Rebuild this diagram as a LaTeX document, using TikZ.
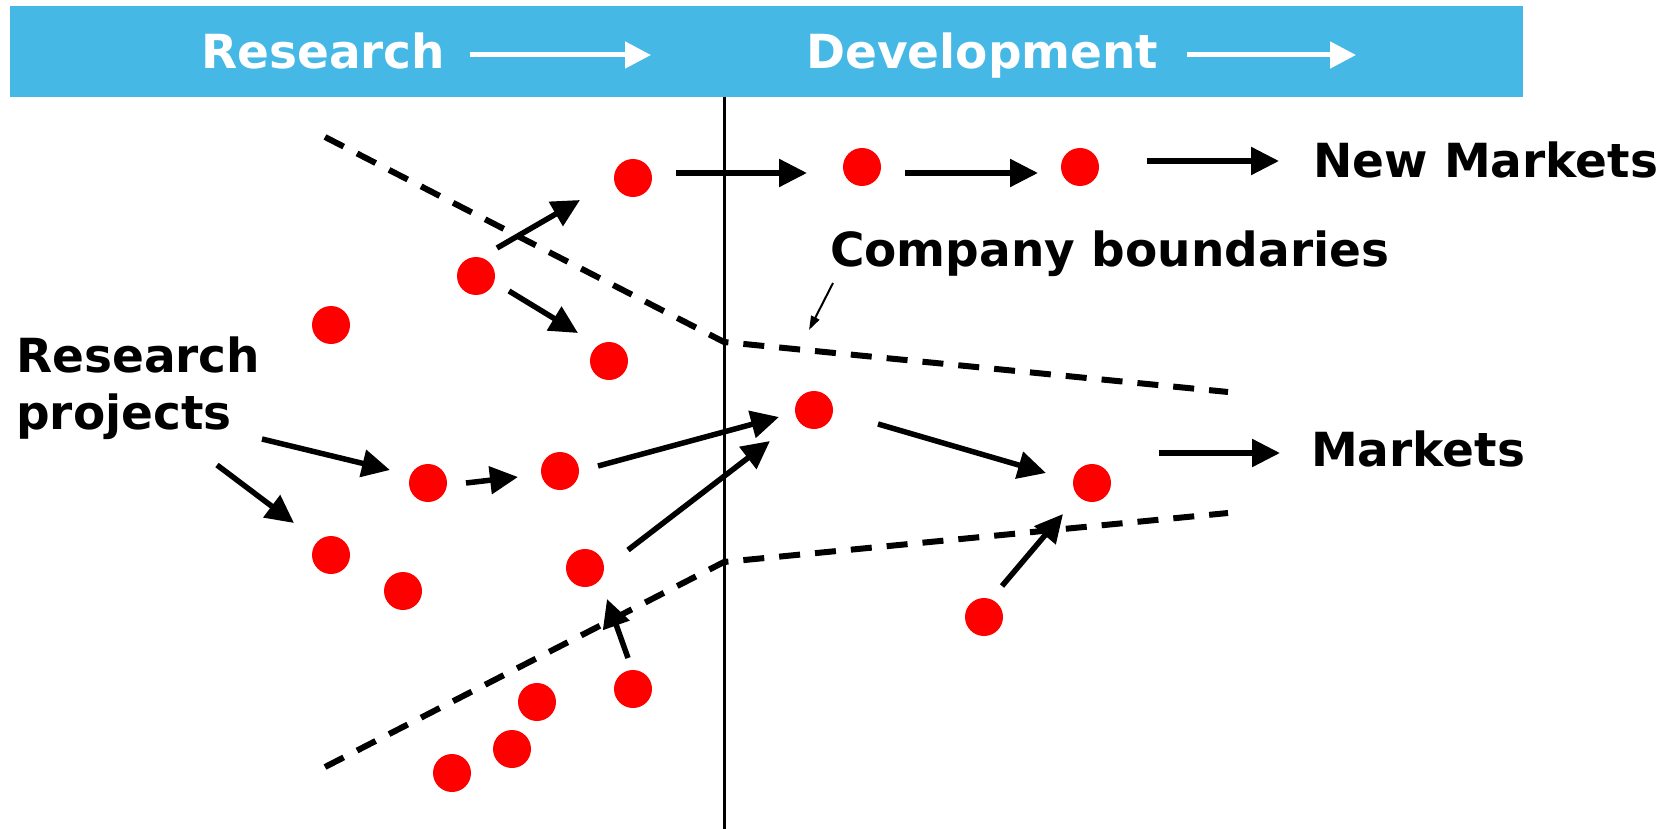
\documentclass[tikz,border=0pt]{standalone}
\usepackage{fontspec}
\setmainfont{DejaVu Sans}
\usetikzlibrary{arrows.meta}
\definecolor{bandblue}{RGB}{70,184,230}
\begin{document}
\begin{tikzpicture}[x=1pt,y=-1pt,
  dot/.style={circle,fill=red,minimum size=38pt,inner sep=0pt},
  lbl/.style={anchor=base west,inner sep=0pt,font=\fontsize{47}{57}\selectfont\bfseries},
  hlbl/.style={lbl,text=white},
  flow/.style={line width=5.5pt,-{Triangle[length=28pt,width=27pt]}},
  hflow/.style={white,line width=5pt,-{Triangle[length=26pt,width=26pt]}},
  border/.style={line width=6pt,dash pattern=on 21pt off 15pt},
  pointer/.style={line width=2pt,-{Triangle[length=14pt,width=9pt]}}
]
\useasboundingbox (0,0) rectangle (1675,829);

% header band
\fill[bandblue] (10,6) rectangle (1523,97);
\node[hlbl] (hres) at (201,69) {Research};
\node[hlbl] (hdev) at (806,69) {Development};
\coordinate (hr1) at (470,55); \coordinate (hr2) at (651,55);
\coordinate (hd1) at (1187,55); \coordinate (hd2) at (1356,55);
\draw[hflow] (hr1) -- (hr2);
\draw[hflow] (hd1) -- (hd2);

% research / development divide
\coordinate (vtop) at (724,97); \coordinate (vbot) at (724,829);
\draw[line width=3pt] (vtop) -- (vbot);

% company boundaries
\coordinate (ub1) at (325,137); \coordinate (ub2) at (724,342); \coordinate (ub3) at (1228,392);
\coordinate (lb1) at (325,767); \coordinate (lb2) at (724,562); \coordinate (lb3) at (1228,513);
\draw[border] (ub1) -- (ub2) -- (ub3);
\draw[border] (lb1) -- (lb2) -- (lb3);

% projects
\node[dot] (d1) at (633,178) {};
\node[dot] (d2) at (862,167) {};
\node[dot] (d3) at (1080,167) {};
\node[dot] (d4) at (476,276) {};
\node[dot] (d5) at (331,325) {};
\node[dot] (d6) at (609,361) {};
\node[dot] (d7) at (814,410) {};
\node[dot] (d8) at (428,483) {};
\node[dot] (d9) at (560,471) {};
\node[dot] (d10) at (1092,483) {};
\node[dot] (d11) at (331,555) {};
\node[dot] (d12) at (403,591) {};
\node[dot] (d13) at (585,568) {};
\node[dot] (d14) at (984,617) {};
\node[dot] (d15) at (633,689) {};
\node[dot] (d16) at (537,702) {};
\node[dot] (d17) at (512,749) {};
\node[dot] (d18) at (452,773) {};

% labels
\node[lbl] (newm) at (1313,178) {New Markets};
\node[lbl] (comp) at (830,266) {Company boundaries};
\node[lbl] (mkts) at (1311,466) {Markets};
\node[lbl,align=left] (rproj) at (16,429) {Research\\projects};

% arrow ends
\coordinate (a1s) at (497,248); \coordinate (a1e) at (580,200);
\coordinate (a2s) at (509,291); \coordinate (a2e) at (578,333);
\coordinate (a3s) at (676,173); \coordinate (a3e) at (807,173);
\coordinate (a4s) at (905,173); \coordinate (a4e) at (1038,173);
\coordinate (a5s) at (1147,161); \coordinate (a5e) at (1279,161);
\coordinate (a6s) at (833,283); \coordinate (a6e) at (809,330);
\coordinate (a7s) at (262,439); \coordinate (a7e) at (390,470);
\coordinate (a8s) at (217,465); \coordinate (a8e) at (294,523);
\coordinate (a9s) at (466,483); \coordinate (a9e) at (518,477);
\coordinate (a10s) at (598,466); \coordinate (a10e) at (779,417);
\coordinate (a11s) at (628,550); \coordinate (a11e) at (770,441);
\coordinate (a12s) at (878,424); \coordinate (a12e) at (1046,473);
\coordinate (a13s) at (1159,453); \coordinate (a13e) at (1280,453);
\coordinate (a14s) at (1002,586); \coordinate (a14e) at (1063,514);
\coordinate (a15s) at (628,658); \coordinate (a15e) at (607,599);

\draw[flow] (a1s) -- (a1e);
\draw[flow] (a2s) -- (a2e);
\draw[flow] (a3s) -- (a3e);
\draw[flow] (a4s) -- (a4e);
\draw[flow] (a5s) -- (a5e);
\draw[pointer] (a6s) -- (a6e);
\draw[flow] (a7s) -- (a7e);
\draw[flow] (a8s) -- (a8e);
\draw[flow] (a9s) -- (a9e);
\draw[flow] (a10s) -- (a10e);
\draw[flow] (a11s) -- (a11e);
\draw[flow] (a12s) -- (a12e);
\draw[flow] (a13s) -- (a13e);
\draw[flow] (a14s) -- (a14e);
\draw[flow] (a15s) -- (a15e);
\end{tikzpicture}
\end{document}
